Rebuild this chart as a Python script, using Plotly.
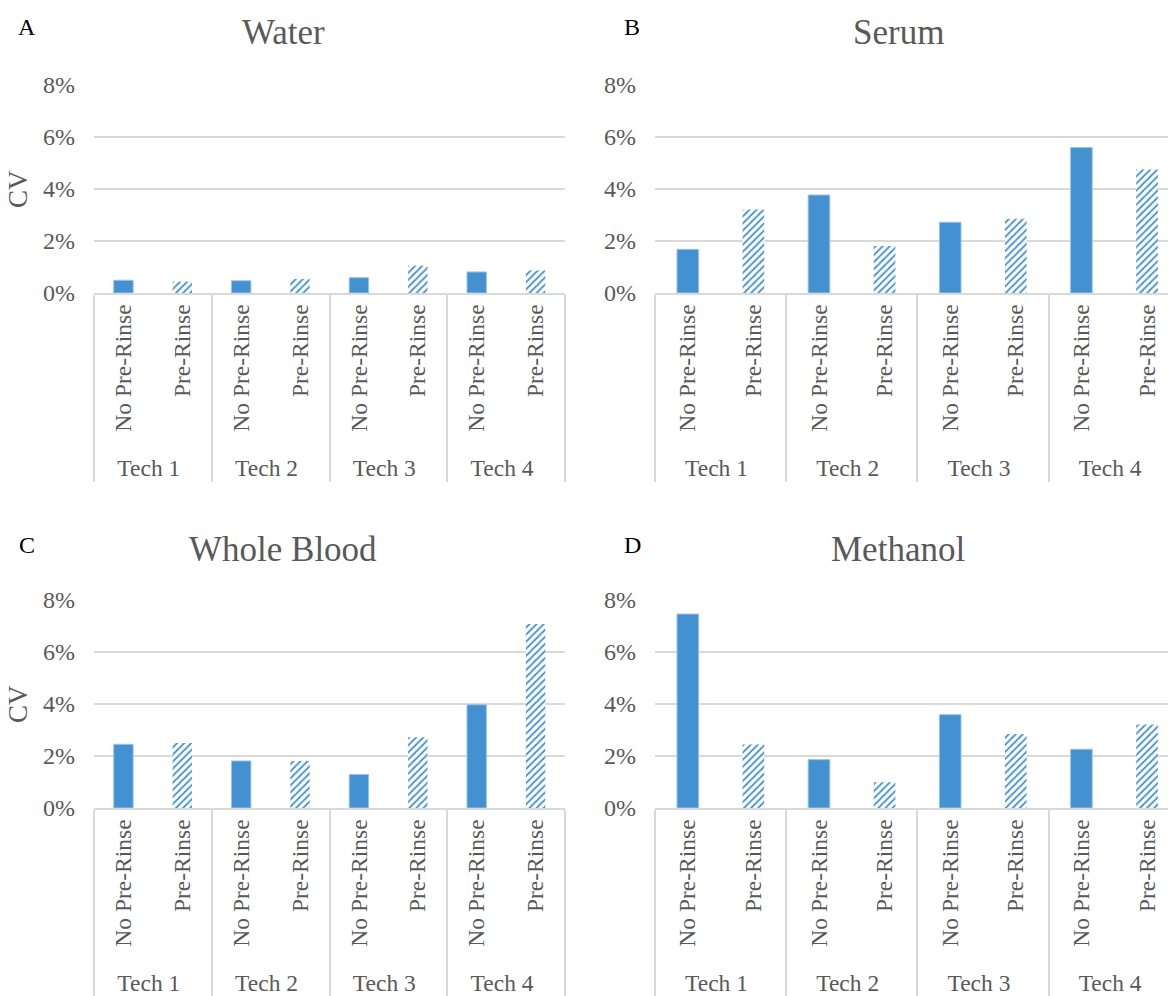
import plotly.graph_objects as go

techs = ["Tech 1", "Tech 2", "Tech 3", "Tech 4"]
conditions = ["No Pre-Rinse", "Pre-Rinse"]
panel_titles = ["Water", "Serum", "Whole Blood", "Methanol"]
panel_letters = ["A", "B", "C", "D"]

water_no = [0.49, 0.47, 0.59, 0.81]
water_pre = [0.44, 0.54, 1.05, 0.87]
serum_no = [1.68, 3.77, 2.72, 5.60]
serum_pre = [3.21, 1.81, 2.86, 4.75]
blood_no = [2.45, 1.81, 1.29, 3.97]
blood_pre = [2.50, 1.81, 2.72, 7.08]
methanol_no = [7.46, 1.86, 3.59, 2.26]
methanol_pre = [2.44, 0.99, 2.85, 3.21]

series = [(water_no, water_pre), (serum_no, serum_pre),
          (blood_no, blood_pre), (methanol_no, methanol_pre)]

W, H = 1168, 996
BLUE = "#4391d0"
GRID = "#d9d9d9"
TXT = "#595959"
FONT = "Liberation Serif"

# panel plot areas in pixels: (x0, x1, ytop, ybottom)
areas = [(94, 565, 85, 293), (655, 1168, 85, 293),
         (94, 565, 600, 808), (655, 1168, 600, 808)]
xranges = [[-0.5, 7.5], [-0.5, 7.32], [-0.5, 7.5], [-0.5, 7.32]]
title_pos = [(283, 33), (898, 33), (283, 549), (898, 549)]
letter_pos = [(27, 27), (632, 27), (27, 545), (632, 545)]

x_outer = [t for t in techs for _ in conditions]
x_inner = [c for _ in techs for c in conditions]
shapes_pat = ["" if c == conditions[0] else "/" for c in x_inner]
line_cols = ["#9dc3e6" if c == conditions[0] else "rgba(0,0,0,0)" for c in x_inner]

fig = go.Figure()
annotations = []
layout = {}
for i, (no_vals, pre_vals) in enumerate(series):
    yvals = []
    for a, b in zip(no_vals, pre_vals):
        yvals += [a, b]
    sfx = "" if i == 0 else str(i + 1)
    fig.add_trace(go.Bar(
        x=[x_outer, x_inner], y=yvals,
        xaxis="x" + sfx, yaxis="y" + sfx,
        marker=dict(color=BLUE,
                    line=dict(color=line_cols, width=1),
                    pattern=dict(shape=shapes_pat, size=5, solidity=0.35,
                                 bgcolor="white", fillmode="replace")),
        showlegend=False, hoverinfo="skip",
    ))
    x0, x1, yt, yb = areas[i]
    layout["xaxis" + sfx] = dict(
        type="multicategory", domain=[x0 / W, x1 / W], anchor="y" + sfx,
        range=xranges[i], tickangle=-90, showline=True, linecolor=GRID,
        linewidth=2, showdividers=True, dividercolor=GRID, dividerwidth=2,
        ticks="", showgrid=False, automargin=False, fixedrange=True,
        tickfont=dict(family=FONT, size=23.5, color=TXT),
    )
    layout["yaxis" + sfx] = dict(
        domain=[1 - yb / H, 1 - yt / H], anchor="x" + sfx,
        range=[0, 8], dtick=2, ticksuffix="%", showgrid=True,
        gridcolor=GRID, gridwidth=2, zeroline=False, showline=False,
        ticks="", ticklabelstandoff=18, automargin=False, fixedrange=True,
        tickfont=dict(family=FONT, size=24, color=TXT),
    )
    tx, ty = title_pos[i]
    annotations.append(dict(text=panel_titles[i], x=tx / W, y=1 - ty / H,
                            xref="paper", yref="paper", showarrow=False,
                            xanchor="center", yanchor="middle",
                            font=dict(family=FONT, size=35, color=TXT)))
    lx, ly = letter_pos[i]
    annotations.append(dict(text=panel_letters[i], x=lx / W, y=1 - ly / H,
                            xref="paper", yref="paper", showarrow=False,
                            xanchor="center", yanchor="middle",
                            font=dict(family=FONT, size=24, color="black")))

for (x0, x1, yt, yb) in [areas[0], areas[2]]:
    annotations.append(dict(text="CV", x=18 / W, y=1 - (yt + yb) / 2 / H,
                            xref="paper", yref="paper", showarrow=False,
                            textangle=-90, xanchor="center", yanchor="middle",
                            font=dict(family=FONT, size=27, color=TXT)))

fig.update_layout(
    width=W, height=H, margin=dict(l=0, r=0, t=0, b=0, autoexpand=False),
    paper_bgcolor="white", plot_bgcolor="white",
    bargap=0.67, annotations=annotations, **layout,
)
fig.write_html(
    "out.html",
    config={"displayModeBar": False},
    post_script="document.body.style.margin='0';document.body.style.overflow='hidden';",
)
